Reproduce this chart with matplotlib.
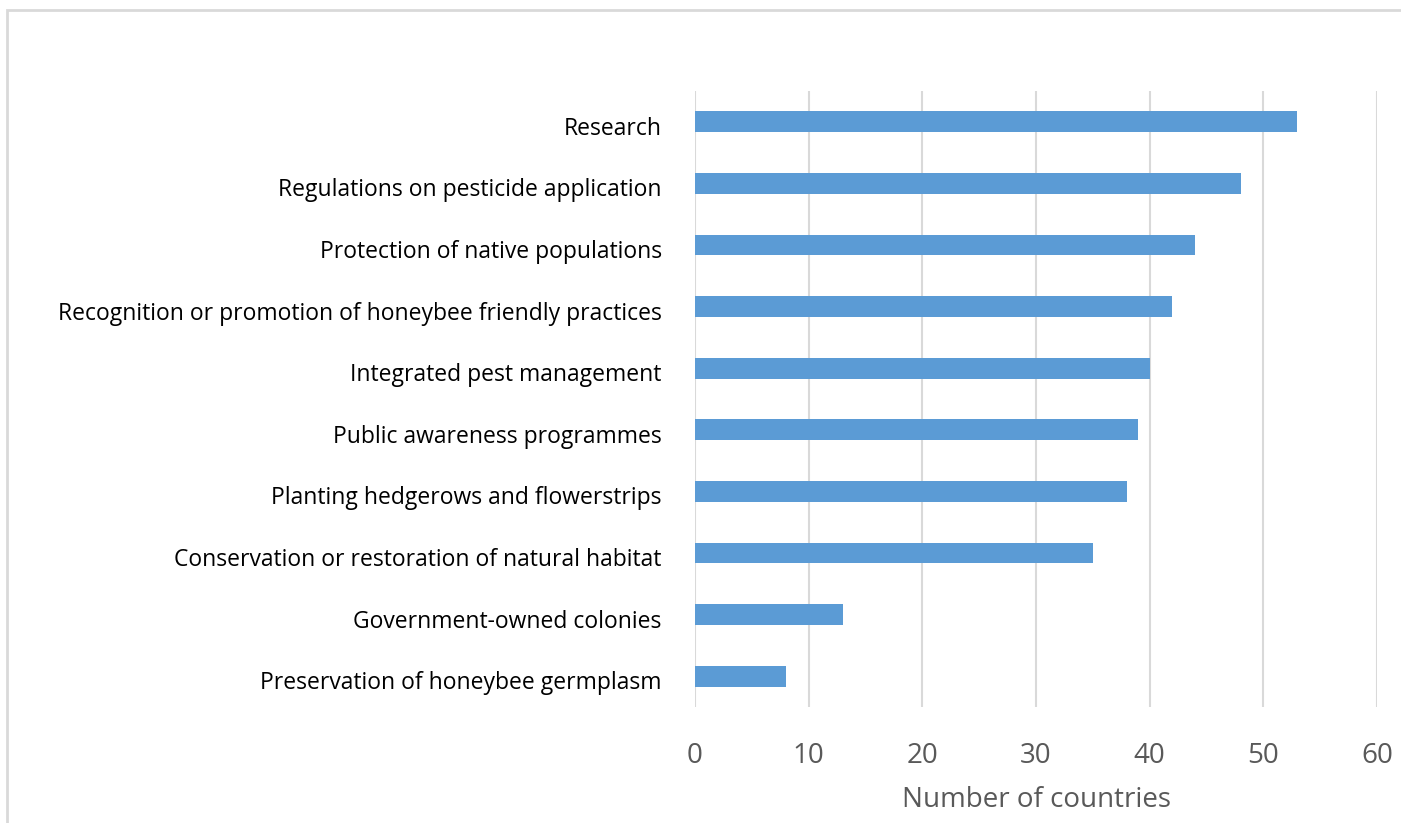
import matplotlib
matplotlib.use("Agg")
import matplotlib.pyplot as plt
from matplotlib.patches import Rectangle
from matplotlib.transforms import ScaledTranslation

categories = [
    "Research",
    "Regulations on pesticide application",
    "Protection of native populations",
    "Recognition or promotion of honeybee friendly practices",
    "Integrated pest management",
    "Public awareness programmes",
    "Planting hedgerows and flowerstrips",
    "Conservation or restoration of natural habitat",
    "Government-owned colonies",
    "Preservation of honeybee germplasm",
]
values = [53, 48, 44, 42, 40, 39, 38, 35, 13, 8]
xticks = [0, 10, 20, 30, 40, 50, 60]
xlabel = "Number of countries"

plt.rcParams['font.family'] = ['Open Sans', 'DejaVu Sans']

fig = plt.figure(figsize=(14.01, 8.23), dpi=100)
fig.patches.append(Rectangle((7/1401, -0.1), 1.2, (1 - 10/823) + 0.1,
                             transform=fig.transFigure, fill=False,
                             edgecolor="#d9d9d9", linewidth=2, zorder=0))

ax = fig.add_axes([695/1401, 1 - 707/823, (1377 - 695)/1401, (707 - 91)/823])
pos = list(range(len(categories)))
ax.barh(pos, values, height=0.34, color="#5B9BD5", zorder=3)
ax.set_ylim(len(categories) - 0.5, -0.5)
ax.set_xlim(0, 60)
ax.set_xticks(xticks)
ax.set_yticks(pos)
ax.set_yticklabels(categories, fontsize=16.5, color="black")
ax.tick_params(axis="x", length=0, pad=25, labelsize=20, labelcolor="#595959")
ax.tick_params(axis="y", length=0, pad=24)
shift = ScaledTranslation(0, -4/100, fig.dpi_scale_trans)
for lab in ax.get_yticklabels():
    lab.set_transform(lab.get_transform() + shift)
ax.grid(axis="x", color="#d9d9d9", linewidth=1.5, zorder=0)
for s in ax.spines.values():
    s.set_visible(False)
ax.set_xlabel(xlabel, fontsize=20, color="#595959", labelpad=12)

fig.savefig("out.png", dpi=100)
